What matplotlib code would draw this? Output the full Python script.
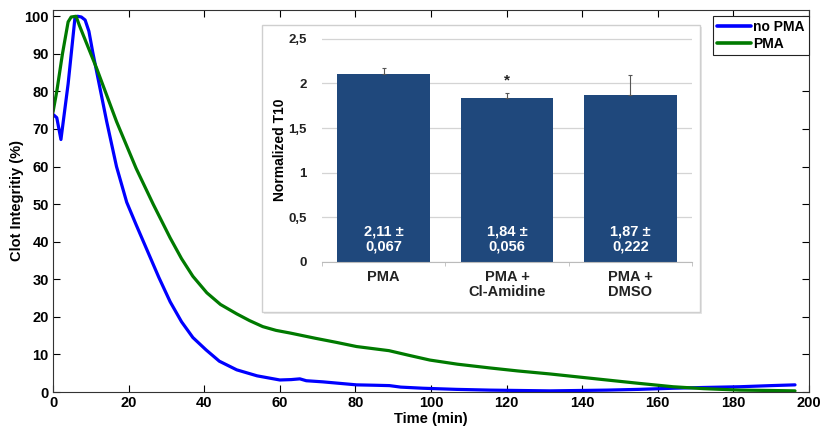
import matplotlib
matplotlib.use("Agg")
import matplotlib.pyplot as plt
from matplotlib.patches import Rectangle
import numpy as np

# ---------------- data ----------------
t_no_pma = [0, 1, 2.1, 4, 5.8, 6.5, 7.5, 8.5, 9.5, 10.5, 11.6, 14.2, 16.8, 19.5, 22, 25,
            28, 31, 34, 37, 40.5, 44, 48.6, 54, 60, 63, 65.3, 67, 71.4, 80.3, 85, 89, 92,
            97.9, 106.7, 115.6, 131.5, 146.5, 155, 164, 172, 181.7, 190, 196.3]
v_no_pma = [73.9, 73, 67.2, 82, 99.5, 100, 99.8, 99, 96, 90.5, 85, 72, 60, 50.5, 44.5, 37.5,
            30.5, 24, 18.7, 14.5, 11.2, 8.2, 5.9, 4.3, 3.2, 3.3, 3.5, 3.0, 2.7, 1.9, 1.8, 1.7, 1.3,
            1.0, 0.7, 0.5, 0.3, 0.5, 0.7, 1.0, 1.2, 1.4, 1.7, 1.9]

t_pma = [0, 1, 2.5, 4, 4.8, 6.1, 7, 11.6, 16.8, 22, 26.5, 31, 34, 37, 40.7, 44.3, 48.6,
         52, 55.5, 59, 62.7, 69.4, 75, 80.3, 88.9, 94, 99.7, 107, 115.6, 123, 131.5,
         139, 146.5, 155, 164, 172, 181.7, 190, 196.3]
v_pma = [74.5, 80, 90, 98.5, 99.8, 100, 97.5, 86, 72, 59.5, 50, 41, 35.5, 30.8, 26.4, 23.3, 20.8,
         19, 17.4, 16.4, 15.7, 14.3, 13.2, 12.1, 11.0, 9.8, 8.5, 7.4, 6.4, 5.6, 4.8,
         4.0, 3.2, 2.3, 1.4, 0.9, 0.5, 0.4, 0.3]

series_labels = ["no PMA", "PMA"]
x_ticks = [0, 20, 40, 60, 80, 100, 120, 140, 160, 180, 200]
y_ticks = [0, 10, 20, 30, 40, 50, 60, 70, 80, 90, 100]

bar_categories = ["PMA", "PMA +\nCl-Amidine", "PMA +\nDMSO"]
bar_values = [2.11, 1.84, 1.87]
bar_errors = [0.067, 0.056, 0.222]
bar_texts = ["2,11 ±\n0,067", "1,84 ±\n0,056", "1,87 ±\n0,222"]
bar_yticks = [0, 0.5, 1, 1.5, 2, 2.5]
bar_yticklabels = ["0", "0,5", "1", "1,5", "2", "2,5"]

# ---------------- figure ----------------
W, H = 822, 426
fig = plt.figure(figsize=(W / 100, H / 100), dpi=100)

narrow = ["Liberation Sans Narrow", "Liberation Sans", "DejaVu Sans"]
sans = ["Liberation Sans", "DejaVu Sans"]

def fx(px):
    return px / W

def fy(py):
    return 1 - py / H

ax = fig.add_axes([fx(53), fy(392), fx(809 - 53), (392 - 9.5) / H])
ax.plot(t_no_pma, v_no_pma, color="#0000ff", lw=2.3, label=series_labels[0],
        solid_joinstyle="round", solid_capstyle="round")
ax.plot(t_pma, v_pma, color="#007a00", lw=2.3, label=series_labels[1],
        solid_joinstyle="round", solid_capstyle="round")
ax.set_xlim(0, 200)
ax.set_ylim(0, 101.8)
ax.set_xticks(x_ticks)
ax.set_yticks(y_ticks)
ax.tick_params(direction="in", top=True, right=True, length=5, width=0.8, pad=3)
for lab in ax.get_xticklabels() + ax.get_yticklabels():
    lab.set_fontfamily(narrow)
    lab.set_fontweight("bold")
    lab.set_fontsize(10.5)
for sp in ax.spines.values():
    sp.set_linewidth(0.8)
    sp.set_color("#333333")
ax.set_xlabel("Time (min)", fontfamily=narrow, fontweight="bold", fontsize=10.5, labelpad=1)
ax.set_ylabel("Clot Integritiy (%)", fontfamily=narrow, fontweight="bold", fontsize=10.5, labelpad=0.5)

leg = ax.legend(loc="upper right", bbox_to_anchor=(1.0, 0.983), borderaxespad=0,
                prop={"family": sans, "weight": "bold", "size": 10},
                handlelength=2.4, handletextpad=0.2, labelspacing=0.2,
                borderpad=0.3, fancybox=False, framealpha=1, edgecolor="#222222")
leg.get_frame().set_linewidth(0.8)
for h in leg.get_lines():
    h.set_linewidth(2.6)

# ---------------- inset frame ----------------
shadow = Rectangle((fx(264), fy(314)), fx(700 - 262), (312 - 25) / H,
                   transform=fig.transFigure, facecolor="#e6e6e6", edgecolor="none", zorder=1)
frame = Rectangle((fx(262), fy(312)), fx(700 - 262), (312 - 25) / H,
                  transform=fig.transFigure, facecolor="white", edgecolor="#cfcfcf",
                  lw=1.0, zorder=1.1)
fig.patches.extend([shadow, frame])

# ---------------- inset bar chart ----------------
ins = fig.add_axes([fx(322), fy(262), fx(692 - 322), (262 - 37) / H], zorder=2)
ins.set_facecolor("none")
xpos = np.arange(len(bar_categories))
ins.bar(xpos, bar_values, width=0.75, color="#1F487C", zorder=2)
ins.errorbar(xpos, bar_values, yerr=[[0] * len(bar_errors), bar_errors], fmt="none",
             ecolor="#555555", elinewidth=0.8, capsize=1.5, capthick=0.8, zorder=3)
for x, v, txt in zip(xpos, bar_values, bar_texts):
    ins.text(x, 0.26, txt, ha="center", va="center", color="white",
             fontfamily=sans, fontweight="bold", fontsize=10.5, linespacing=1.05, zorder=4)
ins.text(xpos[1], 2.03, "*", ha="center", va="center", fontfamily=sans,
         fontweight="bold", fontsize=11, color="#222222", zorder=4)
ins.set_xlim(-0.5, len(bar_categories) - 0.5)
ins.set_ylim(0, 2.52)
ins.set_yticks(bar_yticks)
ins.set_yticklabels(bar_yticklabels)
ins.set_xticks(xpos)
ins.set_xticklabels(bar_categories, linespacing=1.05)
ins.set_xticks(np.arange(len(bar_categories) + 1) - 0.5, minor=True)
ins.tick_params(axis="x", which="major", length=0, pad=6)
ins.tick_params(axis="x", which="minor", length=3, color="#bbbbbb", direction="out")
ins.tick_params(axis="y", length=0, pad=11)
for lab in ins.get_xticklabels():
    lab.set_fontsize(10.5)
for lab in ins.get_yticklabels():
    lab.set_fontsize(9.5)
for lab in ins.get_xticklabels() + ins.get_yticklabels():
    lab.set_fontfamily(sans)
    lab.set_fontweight("bold")
    lab.set_color("#222222")
ins.yaxis.grid(True, color="#d4d4d4", lw=0.9, zorder=0)
ins.set_axisbelow(True)
for k in ["top", "right", "left"]:
    ins.spines[k].set_visible(False)
ins.spines["bottom"].set_color("#bbbbbb")
ins.set_ylabel("Normalized T10", fontfamily=sans, fontweight="bold", fontsize=10, labelpad=1)

fig.savefig("out.png", dpi=100)
